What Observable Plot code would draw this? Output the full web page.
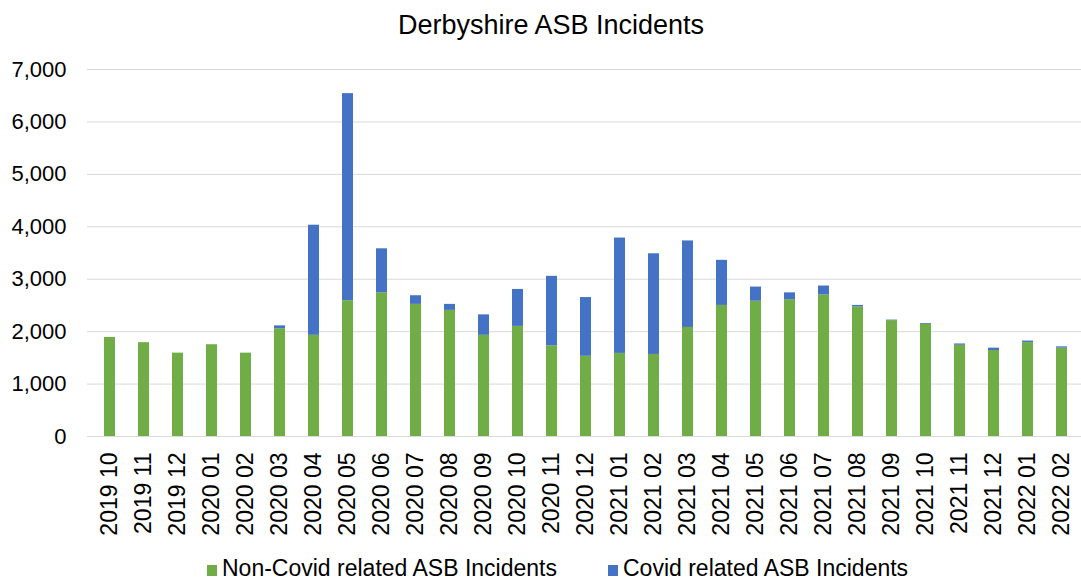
<!DOCTYPE html>
<html>
<head>
<meta charset="utf-8">
<script src="https://cdn.jsdelivr.net/npm/d3@7"></script>
<script src="https://cdn.jsdelivr.net/npm/@observablehq/plot@0.6"></script>
<style>
  html, body { margin: 0; padding: 0; background: #fff; }
  #wrap { position: relative; width: 1081px; height: 582px; font-family: "Liberation Sans", Arial, sans-serif; color: #000; overflow: hidden; }
  #title { position: absolute; top: 12px; left: 551px; transform: translateX(-50%); font-size: 27px; line-height: 27px; white-space: nowrap; }
  #chart { position: absolute; top: 50px; left: 0; }
  .leg { position: absolute; top: 557px; font-size: 23px; line-height: 23px; white-space: nowrap; }
  .sw { position: absolute; width: 10px; height: 11px; top: 565px; }
</style>
</head>
<body>
<div id="wrap">
  <div id="title">Derbyshire ASB Incidents</div>
  <div id="chart"></div>
</div>
<script>
const months = ["2019 10","2019 11","2019 12","2020 01","2020 02","2020 03","2020 04","2020 05","2020 06","2020 07","2020 08","2020 09","2020 10","2020 11","2020 12","2021 01","2021 02","2021 03","2021 04","2021 05","2021 06","2021 07","2021 08","2021 09","2021 10","2021 11","2021 12","2022 01","2022 02"];
const nonCovid = [1890,1790,1590,1750,1590,2055,1930,2590,2740,2520,2405,1930,2100,1730,1530,1585,1565,2080,2500,2580,2610,2700,2470,2210,2140,1740,1640,1790,1685];
const covid    = [0,0,0,0,0,55,2100,3950,840,165,115,390,705,1325,1120,2200,1920,1650,860,270,130,170,30,10,15,25,45,30,25];
const seriesNames = ["Non-Covid related ASB Incidents","Covid related ASB Incidents"];
const seriesColors = ["#70AD47","#4472C4"];
const yTicks = [0,1000,2000,3000,4000,5000,6000,7000];

const rows = months.flatMap((m, i) => [
  {month: m, series: seriesNames[0], value: nonCovid[i]},
  {month: m, series: seriesNames[1], value: covid[i]}
]);

const chart = Plot.plot({
  width: 1081,
  height: 490,
  marginLeft: 87,
  marginRight: 0,
  marginTop: 19,
  marginBottom: 104,
  style: {fontFamily: "'Liberation Sans', Arial, sans-serif", fontSize: "22px", color: "#000", background: "#fff"},
  x: {domain: months, range: [87, 1085], paddingInner: 0.67, paddingOuter: 0.335, label: null},
  y: {domain: [0, 7000], label: null},
  color: {domain: seriesNames, range: seriesColors},
  marks: [
    Plot.gridY(yTicks, {stroke: "#d9d9d9", strokeOpacity: 1, strokeWidth: 1}),
    Plot.barY(rows, {x: "month", y: "value", fill: "series", order: seriesNames}),
    Plot.axisY(yTicks, {tickSize: 0, tickPadding: 21, tickFormat: d3.format(","), fontSize: 22, label: null}),
    Plot.axisX({tickSize: 0, tickPadding: 16, tickRotate: -90, fontSize: 23, label: null}),
    Plot.ruleY([0], {stroke: "#d9d9d9", strokeWidth: 1})
  ]
});
document.getElementById("chart").appendChild(chart);

const wrap = document.getElementById("wrap");
const legX = [{sw: 207, tx: 222}, {sw: 608, tx: 623}];
seriesNames.forEach((name, i) => {
  const sw = document.createElement("div");
  sw.className = "sw";
  sw.style.left = legX[i].sw + "px";
  sw.style.background = seriesColors[i];
  wrap.appendChild(sw);
  const t = document.createElement("div");
  t.className = "leg";
  t.style.left = legX[i].tx + "px";
  t.textContent = name;
  wrap.appendChild(t);
});
</script>
</body>
</html>
